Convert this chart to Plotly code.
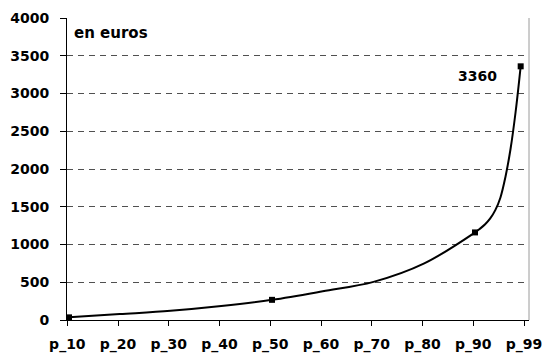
import plotly.graph_objects as go

# Data (percentile -> euros)
pct = [10, 20, 30, 40, 50, 60, 70, 80, 90, 91, 92, 93, 94, 95, 96, 97, 98, 99]
euros = [35, 78, 122, 185, 267, 380, 505, 750, 1160, 1210, 1268, 1345, 1455, 1620, 1895, 2265, 2755, 3360]
marked_pct = [10, 50, 90, 99]
tick_labels = ["p_10", "p_20", "p_30", "p_40", "p_50", "p_60", "p_70", "p_80", "p_90", "p_99"]
y_ticks = [0, 500, 1000, 1500, 2000, 2500, 3000, 3500, 4000]
unit_label = "en euros"
max_label = "3360"

mk_x = [p for p in pct if p in marked_pct]
mk_y = [e for p, e in zip(pct, euros) if p in marked_pct]

FONT = "DejaVu Sans"

fig = go.Figure()
fig.add_trace(go.Scatter(
    x=pct, y=euros, mode="lines",
    line=dict(color="black", width=2, shape="spline", smoothing=1.0),
    cliponaxis=False, hoverinfo="skip", showlegend=False,
))
fig.add_trace(go.Scatter(
    x=mk_x, y=mk_y, mode="markers",
    marker=dict(symbol="square", size=6, color="black"),
    cliponaxis=False, showlegend=False,
))

tick_pos = [9.67 + 10.0 * i for i in range(len(tick_labels))]

fig.update_layout(
    width=550, height=354,
    margin=dict(l=67, r=21, t=18, b=34),
    paper_bgcolor="white", plot_bgcolor="white",
    font=dict(family=FONT, size=14, color="black"),
    xaxis=dict(
        range=[9.6, 100.64], automargin=False,
        tickmode="array", tickvals=tick_pos, ticktext=[f"<b>{t}</b>" for t in tick_labels],
        showgrid=False, zeroline=False,
        showline=True, linecolor="black", linewidth=1,
        ticks="outside", ticklen=5, tickcolor="black", tickwidth=1,
        ticklabelstandoff=6,
        tickfont=dict(family=FONT, size=14, color="black"),
    ),
    yaxis=dict(
        range=[0, 4000], automargin=False,
        tickmode="array", tickvals=y_ticks, ticktext=[f"<b>{v}</b>" for v in y_ticks],
        showgrid=True, gridcolor="#505050", gridwidth=1, griddash="6px,5px",
        zeroline=False,
        showline=True, linecolor="black", linewidth=1,
        ticks="outside", ticklen=6, tickcolor="black", tickwidth=1,
        ticklabelstandoff=8,
        tickfont=dict(family=FONT, size=14, color="black"),
    ),
    shapes=[dict(type="line", xref="paper", yref="paper", x0=1, x1=1, y0=0, y1=1,
                 line=dict(color="#9a9a9a", width=1))],
    annotations=[
        dict(text=f"<b>{unit_label}</b>", xref="paper", yref="paper",
             x=0.011, y=0.951, xanchor="left", yanchor="middle", showarrow=False,
             font=dict(family=FONT, size=15, color="black")),
        dict(text=f"<b>{max_label}</b>", xref="x", yref="y",
             x=mk_x[-1], y=mk_y[-1], xshift=-43, yshift=-10,
             xanchor="center", yanchor="middle", showarrow=False,
             font=dict(family=FONT, size=14, color="black")),
    ],
)

fig.write_html("out.html", config={"displayModeBar": False},
               post_script="document.body.style.margin='0';document.body.style.overflow='hidden';")
